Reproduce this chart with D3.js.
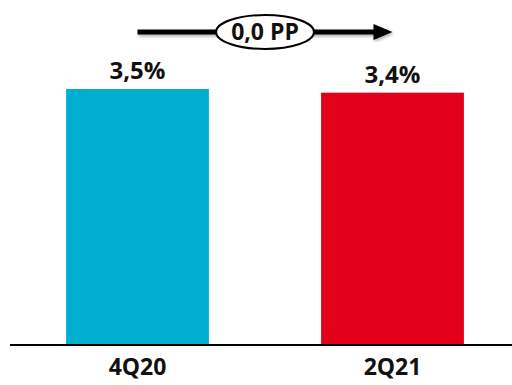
<!DOCTYPE html>
<html>
<head>
<meta charset="utf-8">
<script src="https://cdn.jsdelivr.net/npm/d3@7"></script>
<style>
  body { margin: 0; background: #fff; }
  text { font-family: "Open Sans", Lato, sans-serif; font-weight: bold; fill: #111; }
</style>
</head>
<body>
<svg id="chart"></svg>
<script>
// Chart data
var categories = ["4Q20", "2Q21"];
var values = [3.5, 3.45];
var valueLabels = ["3,5%", "3,4%"];
var barColors = ["#00AECF", "#E2001A"];
var changeLabel = "0,0 PP";

var width = 512,
    height = 385,
    baseline = 345;

var svg = d3.select("#chart")
  .attr("width", width)
  .attr("height", height);

// Scales
var x = d3.scaleBand()
  .domain(categories)
  .range([10, 520])
  .paddingInner(0.44)
  .paddingOuter(0.22);

var y = d3.scaleLinear()
  .domain([0, 3.5])
  .range([baseline, 89]);

// Bars
svg.selectAll(".bar")
  .data(values)
  .enter().append("rect")
  .attr("class", "bar")
  .attr("x", function(d, i) { return x(categories[i]); })
  .attr("y", function(d) { return y(d); })
  .attr("width", x.bandwidth())
  .attr("height", function(d) { return baseline - y(d); })
  .attr("fill", function(d, i) { return barColors[i]; });

// Value labels above bars
svg.selectAll(".val")
  .data(values)
  .enter().append("text")
  .attr("class", "val")
  .attr("x", function(d, i) { return x(categories[i]) + x.bandwidth() / 2; })
  .attr("y", function(d) { return y(d) - 10; })
  .attr("text-anchor", "middle")
  .style("font-size", "24px")
  .text(function(d, i) { return valueLabels[i]; });

// Baseline axis
var xAxis = d3.axisBottom(x).tickSize(0).tickPadding(14);
var ax = svg.append("g")
  .attr("transform", "translate(0," + baseline + ")")
  .call(xAxis);
ax.select(".domain").attr("d", "M10,0H512").attr("stroke", "#000").attr("stroke-width", 2);
ax.selectAll("text")
  .style("font-size", "23px")
  .style("font-family", "'Open Sans', Lato, sans-serif")
  .attr("fill", "#111");

// Change arrow between the two bars
var x1 = x(categories[0]) + x.bandwidth() / 2,
    x2 = x(categories[1]) + x.bandwidth() / 2,
    ay = 32;

var defs = svg.append("defs");
defs.append("filter").attr("id", "shadow")
  .append("feDropShadow")
  .attr("dx", 1).attr("dy", 2).attr("stdDeviation", 1.5)
  .attr("flood-color", "#000").attr("flood-opacity", 0.3);

var arrow = svg.append("g").attr("filter", "url(#shadow)");
arrow.append("line")
  .attr("x1", x1).attr("y1", ay)
  .attr("x2", x2 - 16).attr("y2", ay)
  .attr("stroke", "#000")
  .attr("stroke-width", 5);
arrow.append("path")
  .attr("d", "M" + (x2 - 19) + "," + (ay - 8) + "L" + x2 + "," + ay + "L" + (x2 - 19) + "," + (ay + 8) + "Z")
  .attr("fill", "#000");

var mid = (x1 + x2) / 2;
svg.append("ellipse")
  .attr("cx", mid).attr("cy", ay)
  .attr("rx", 49).attr("ry", 17)
  .attr("fill", "#fff")
  .attr("stroke", "#000")
  .attr("stroke-width", 2);
svg.append("text")
  .attr("x", mid).attr("y", ay + 8)
  .attr("text-anchor", "middle")
  .style("font-size", "23px")
  .text(changeLabel);
</script>
</body>
</html>
